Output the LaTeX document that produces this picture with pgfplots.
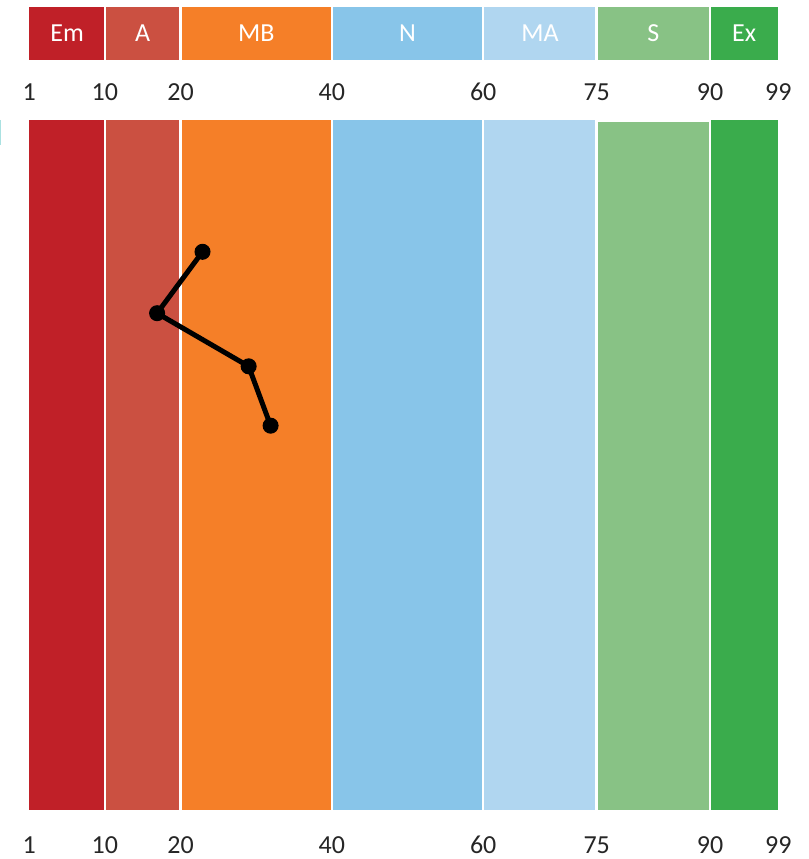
\documentclass[border=0pt]{standalone}
\usepackage{pgfplots}
\pgfplotsset{compat=1.18}
\usepackage{fontspec}
\setmainfont{Carlito}

\definecolor{cEm}{RGB}{192,32,40}
\definecolor{cA}{RGB}{203,80,65}
\definecolor{cMB}{RGB}{245,127,40}
\definecolor{cN}{RGB}{136,197,233}
\definecolor{cMA}{RGB}{176,214,240}
\definecolor{cS}{RGB}{136,194,133}
\definecolor{cEx}{RGB}{58,172,76}
\definecolor{tickgray}{RGB}{38,38,38}

\pgfplotsset{
  bandaxis/.style={
    scale only axis,
    width=749bp,
    xmin=0, xmax=99,
    axis line style={draw=none},
    tick style={draw=none},
    ytick=\empty,
    xtick={0,10,20,40,60,75,90,99},
    xticklabels={1,10,20,40,60,75,90,99},
    xticklabel style={font=\fontsize{26bp}{30bp}\selectfont, text=tickgray,
      anchor=center, inner sep=0pt},
    clip=false,
  },
  gap/.style={draw=white, line width=2.5bp},
}

\begin{document}
\begin{tikzpicture}[font=\fontsize{26bp}{30bp}\selectfont]
\path[use as bounding box] (0,0) rectangle (809bp,859bp);

% header strip
\begin{axis}[bandaxis,
  at={(29.25bp,799bp)}, anchor=south west,
  height=53bp, ymin=0, ymax=1,
  xticklabel style={yshift=-32bp},
]
\addplot[fill=cEm, draw=none] coordinates {(0,0) (10,0) (10,1) (0,1)} -- cycle;
\addplot[fill=cA,  draw=none] coordinates {(10,0) (20,0) (20,1) (10,1)} -- cycle;
\addplot[fill=cMB, draw=none] coordinates {(20,0) (40,0) (40,1) (20,1)} -- cycle;
\addplot[fill=cN,  draw=none] coordinates {(40,0) (60,0) (60,1) (40,1)} -- cycle;
\addplot[fill=cMA, draw=none] coordinates {(60,0) (75,0) (75,1) (60,1)} -- cycle;
\addplot[fill=cS,  draw=none] coordinates {(75,0) (90,0) (90,1) (75,1)} -- cycle;
\addplot[fill=cEx, draw=none] coordinates {(90,0) (99,0) (99,1) (90,1)} -- cycle;
\addplot[gap] coordinates {(10,0) (10,1)};
\addplot[gap] coordinates {(20,0) (20,1)};
\addplot[gap] coordinates {(40,0) (40,1)};
\addplot[gap] coordinates {(60,0) (60,1)};
\addplot[gap] coordinates {(75,0) (75,1)};
\addplot[gap] coordinates {(90,0) (90,1)};
\node[text=white] at (axis cs:5,0.5) {Em};
\node[text=white] at (axis cs:15,0.5) {A};
\node[text=white] at (axis cs:30,0.5) {MB};
\node[text=white] at (axis cs:50,0.5) {N};
\node[text=white] at (axis cs:67.5,0.5) {MA};
\node[text=white] at (axis cs:82.5,0.5) {S};
\node[text=white] at (axis cs:94.5,0.5) {Ex};
\end{axis}

% main chart
\begin{axis}[bandaxis,
  at={(29.25bp,49bp)}, anchor=south west,
  height=690bp, ymin=0, ymax=100, y dir=reverse,
  xticklabel style={yshift=-35bp},
]
\addplot[fill=cEm, draw=none] coordinates {(0,0) (10,0) (10,100) (0,100)} -- cycle;
\addplot[fill=cA,  draw=none] coordinates {(10,0) (20,0) (20,100) (10,100)} -- cycle;
\addplot[fill=cMB, draw=none] coordinates {(20,0) (40,0) (40,100) (20,100)} -- cycle;
\addplot[fill=cN,  draw=none] coordinates {(40,0) (60,0) (60,100) (40,100)} -- cycle;
\addplot[fill=cMA, draw=none] coordinates {(60,0) (75,0) (75,100) (60,100)} -- cycle;
\addplot[fill=cS,  draw=none] coordinates {(75,0.3) (90,0.3) (90,100) (75,100)} -- cycle;
\addplot[fill=cEx, draw=none] coordinates {(90,0) (99,0) (99,100) (90,100)} -- cycle;
\addplot[gap] coordinates {(10,0) (10,100)};
\addplot[gap] coordinates {(20,0) (20,100)};
\addplot[gap] coordinates {(40,0) (40,100)};
\addplot[gap] coordinates {(60,0) (60,100)};
\addplot[gap] coordinates {(75,0) (75,100)};
\addplot[gap] coordinates {(90,0) (90,100)};
% stray edge mark at far left
\addplot[draw={rgb,255:red,170;green,225;blue,225}, line width=1.5bp] coordinates {(-3.8,0) (-3.8,3.6)};
% profile line
\addplot[black, line width=5bp, mark=*, mark size=7.5bp,
  mark options={fill=black, line width=1bp}]
  coordinates {(22.9,19.1) (16.9,28.0) (29.0,35.7) (31.9,44.3)};
\end{axis}
\end{tikzpicture}
\end{document}
